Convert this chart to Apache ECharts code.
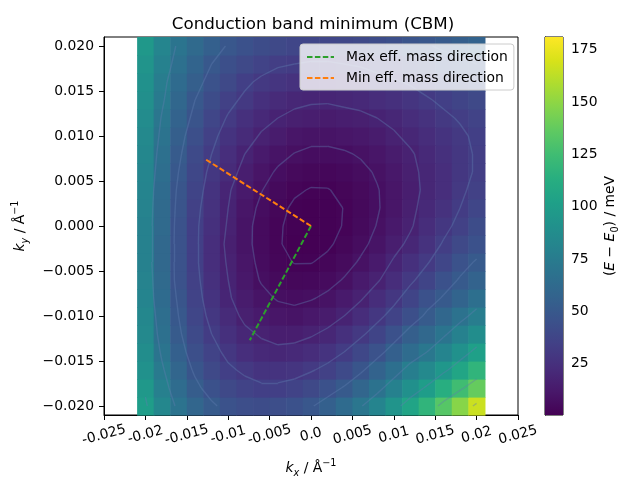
<!DOCTYPE html>
<html>
<head>
<meta charset="utf-8">
<script src="https://cdn.jsdelivr.net/npm/echarts@6/dist/echarts.min.js"></script>
<style>
html,body{margin:0;padding:0;background:#ffffff;}
#chart{width:640px;height:480px;}
</style>
</head>
<body>
<div id="chart"></div>
<script>
// ---------------- data ----------------
const kxValues = [-0.020,-0.018,-0.016,-0.014,-0.012,-0.010,-0.008,-0.006,-0.004,-0.002,0.000,
                  0.002,0.004,0.006,0.008,0.010,0.012,0.014,0.016,0.018,0.020];
const kyValues = [-0.020,-0.018,-0.016,-0.014,-0.012,-0.010,-0.008,-0.006,-0.004,-0.002,0.000,
                  0.002,0.004,0.006,0.008,0.010,0.012,0.014,0.016,0.018,0.020];
// (E - E0) in meV, one row per ky value (ascending), columns follow kxValues
const energyRows = [
  [100, 83, 69, 59, 52, 46, 43, 42, 43, 45, 49, 55, 63, 71, 81, 93,105,118,133,148,166], // ky=-0.020
  [ 96, 78, 64, 53, 45, 40, 36, 34, 34, 36, 40, 45, 51, 59, 68, 79, 90,100,113,125,138], // -0.018
  [ 91, 74, 59, 48, 40, 34, 30, 27, 27, 28, 31, 35, 41, 48, 57, 66, 77, 85, 95,106,118], // -0.016
  [ 88, 70, 55, 44, 36, 29, 24, 21, 20, 21, 23, 27, 32, 39, 46, 55, 64, 72, 81, 91,102], // -0.014
  [ 85, 67, 52, 41, 32, 25, 20, 17, 15, 15, 17, 20, 25, 30, 37, 45, 54, 61, 70, 79, 88], // -0.012
  [ 83, 65, 50, 38, 29, 22, 16, 13, 11, 10, 12, 14, 18, 23, 29, 36, 44, 52, 60, 68, 76], // -0.010
  [ 81, 63, 48, 36, 27, 19, 14, 10,7.3,6.6,7.4,9.4, 13, 17, 23, 29, 37, 45, 51, 58, 66], // -0.008
  [ 80, 62, 46, 35, 25, 18, 12,7.4,4.8,3.8,4.1,5.7,8.5, 13, 17, 23, 30, 37, 45, 51, 57], // -0.006
  [ 79, 61, 46, 34, 24, 17, 11,6.1,3.2,1.8,1.8,3.0,5.4,8.8, 13, 19, 25, 31, 38, 46, 51], // -0.004
  [ 79, 61, 46, 34, 24, 16, 10,5.5,2.4,0.8,0.7,1.3,3.3,6.3, 10, 15, 20, 26, 33, 40, 45], // -0.002
  [ 79, 62, 46, 34, 25, 17, 10,5.7,2.5,0.9,0.6,0.9,2.2,4.8,8.3, 12.5,17, 23, 29, 35, 42], //  0.000
  [ 80, 62, 47, 35, 26, 18, 11,6.6,3.3,1.2,0.7,0.9,2.1,4.3,7.4, 11, 16, 21, 26, 32, 38], //  0.002
  [ 81, 63, 48, 37, 27, 19, 13,8.3,4.8,2.7,1.7,1.8,2.9,4.9,7.6, 11, 15, 20, 24, 30, 35], //  0.004
  [ 82, 65, 50, 39, 29, 22, 15,10.5,7.1,4.9,3.8,3.7,4.6,6.3,8.8,12, 16, 20, 24, 29, 33], //  0.006
  [ 83, 67, 52, 41, 32, 24, 18, 13, 10,7.8,6.6,6.5,7.2,8.7, 11, 14, 17, 21, 25, 29, 33], //  0.008
  [ 85, 69, 54, 44, 35, 27, 22, 17, 14, 11, 10, 10, 11, 12, 14, 17, 20, 23, 27, 30, 34], //  0.010
  [ 87, 71, 57, 47, 38, 31, 25, 21, 18, 16, 15, 14, 15, 16, 18, 20, 23, 26, 30, 33, 36], //  0.012
  [ 89, 74, 60, 50, 42, 35, 30, 25, 22, 20, 19, 19, 20, 21, 23, 25, 28, 31, 34, 37, 40], //  0.014
  [ 91, 76, 63, 54, 46, 40, 34, 30, 28, 26, 25, 25, 26, 27, 29, 31, 33, 36, 39, 42, 44], //  0.016
  [ 93, 79, 67, 58, 50, 44, 40, 36, 33, 32, 31, 31, 32, 33, 35, 37, 40, 42, 45, 47, 50], //  0.018
  [ 96, 82, 70, 62, 55, 49, 45, 42, 40, 38, 38, 38, 39, 40, 42, 44, 47, 49, 52, 54, 57]  //  0.020
];
const energyMin = 0.6;
const energyMax = 181;
const contourLevels = [2, 8, 18, 32, 50, 72, 98, 128, 162];

const maxMassKx = [0, -0.0074];
const maxMassKy = [0, -0.0127];
const minMassKx = [0, -0.0129];
const minMassKy = [0, 0.0075];

const xTickLabels = ['-0.025','-0.02','-0.015','-0.01','-0.005','0.0','0.005','0.01','0.015','0.02','0.025'];
const yTickValues = [-0.020,-0.015,-0.010,-0.005,0.000,0.005,0.010,0.015,0.020];
const yTickLabels = ['\u22120.020','\u22120.015','\u22120.010','\u22120.005','0.000','0.005','0.010','0.015','0.020'];
const cbarTickValues = [25, 50, 75, 100, 125, 150, 175];

// ---------------- styles ----------------
const FONT = 'DejaVu Sans';
const viridis = ['#440154','#48186a','#472d7b','#424086','#3b528b','#33638d','#2c728e','#26828e',
                 '#21918c','#1fa088','#28ae80','#3fbc73','#5ec962','#84d44b','#addc30','#d8e219','#fde725'];

// ---------------- derived ----------------
const heatData = [];
energyRows.forEach((row, r) => row.forEach((e, c) => heatData.push([kxValues[c], kyValues[r], e])));
const cellW = kxValues[1] - kxValues[0];
const cellH = kyValues[1] - kyValues[0];

function contourSegments(level) {
  const segs = [];
  for (let r = 0; r < kyValues.length - 1; r++) {
    for (let c = 0; c < kxValues.length - 1; c++) {
      const v = [energyRows[r][c], energyRows[r][c+1], energyRows[r+1][c+1], energyRows[r+1][c]];
      const p = [[kxValues[c], kyValues[r]], [kxValues[c+1], kyValues[r]],
                 [kxValues[c+1], kyValues[r+1]], [kxValues[c], kyValues[r+1]]];
      const pts = [];
      for (let e = 0; e < 4; e++) {
        const a = v[e], b = v[(e+1) % 4];
        if ((a < level) !== (b < level)) {
          const t = (level - a) / (b - a);
          const pa = p[e], pb = p[(e+1) % 4];
          pts.push([pa[0] + t * (pb[0] - pa[0]), pa[1] + t * (pb[1] - pa[1])]);
        }
      }
      if (pts.length === 2) segs.push(pts);
      else if (pts.length === 4) { segs.push([pts[0], pts[1]]); segs.push([pts[2], pts[3]]); }
    }
  }
  return segs;
}
const contourData = [];
contourLevels.forEach(l => contourSegments(l).forEach(s => contourData.push({coords: s})));

const nameRich = {
  n:   {fontFamily: FONT, fontSize: 13.9, color: '#000', lineHeight: 20},
  it:  {fontFamily: FONT, fontSize: 13.9, fontStyle: 'italic', color: '#000', lineHeight: 20},
  itsub: {fontFamily: FONT, fontSize: 9.7, fontStyle: 'italic', color: '#000', lineHeight: 10, verticalAlign: 'bottom'},
  sub: {fontFamily: FONT, fontSize: 9.7, color: '#000', lineHeight: 10, verticalAlign: 'bottom'},
  sup: {fontFamily: FONT, fontSize: 9.7, color: '#000', lineHeight: 10, verticalAlign: 'top'}
};

// x tick labels are split over two overlaid bottom axes (alternating ticks) so that
// ECharts does not drop a rotated label because of its neighbour's bounding box.
function xLabelAxis(parity, visibleLine) {
  return {
    type: 'value', gridIndex: 0, position: 'bottom', min: -0.025, max: 0.025, interval: 0.005,
    axisLine: {show: visibleLine, onZero: false, lineStyle: {color: '#000', width: 1}},
    axisTick: {show: visibleLine, inside: false, length: 5, lineStyle: {color: '#000', width: 1}},
    splitLine: {show: false},
    axisLabel: {
      show: true, rotate: 15, align: 'center', verticalAlign: 'middle', margin: 20,
      showMinLabel: true, showMaxLabel: true, hideOverlap: false,
      fontFamily: FONT, fontSize: 13.9, color: '#000',
      formatter: v => {
        const idx = Math.round((v + 0.025) / 0.005);
        return idx % 2 === parity ? xTickLabels[idx] : '';
      }
    }
  };
}

const xMain = xLabelAxis(0, true);
xMain.name = '{it|k}{itsub|x}{n| / Å}{sup|\u22121}';
xMain.nameLocation = 'middle';
xMain.nameGap = 43;
xMain.nameTextStyle = {rich: nameRich};

const chart = echarts.init(document.getElementById('chart'), null, {renderer: 'canvas', width: 640, height: 480});

const option = {
  animation: false,
  backgroundColor: '#ffffff',
  textStyle: {fontFamily: FONT},
  title: {
    text: 'Conduction band minimum (CBM)',
    left: 308, top: 11, textAlign: 'center',
    textStyle: {fontFamily: FONT, fontSize: 16.7, fontWeight: 'normal', color: '#000'}
  },
  legend: {
    orient: 'vertical',
    left: 300, top: 44,
    padding: [6, 6, 5, 6],
    itemWidth: 27, itemHeight: 14, itemGap: 7,
    backgroundColor: 'rgba(255,255,255,0.8)',
    borderColor: '#cccccc', borderWidth: 1, borderRadius: 3,
    itemStyle: {opacity: 0},
    textStyle: {fontFamily: FONT, fontSize: 13.9, color: '#000', padding: [0, 0, 0, 7]},
    data: ['Max eff. mass direction', 'Min eff. mass direction']
  },
  grid: [
    {left: 104, top: 37, width: 414, height: 378, show: true, borderColor: '#000', borderWidth: 1,
     backgroundColor: '#fff', containLabel: false, outerBoundsMode: 'none'},
    {left: 545, top: 37, width: 18, height: 378, show: true, borderColor: '#000', borderWidth: 1,
     containLabel: false, outerBoundsMode: 'none'}
  ],
  visualMap: {
    type: 'continuous', show: false, seriesIndex: 0, dimension: 2,
    min: energyMin, max: energyMax,
    inRange: {color: viridis}
  },
  xAxis: [
    xMain,
    {type: 'value', gridIndex: 1, min: 0, max: 1, show: false},
    xLabelAxis(1, false)
  ],
  yAxis: [
    {
      type: 'value', gridIndex: 0, min: -0.021, max: 0.021,
      axisLine: {show: true, onZero: false, lineStyle: {color: '#000', width: 1}},
      axisTick: {show: true, inside: false, length: 5, customValues: yTickValues, lineStyle: {color: '#000', width: 1}},
      splitLine: {show: false},
      axisLabel: {
        show: true, margin: 10, fontFamily: FONT, fontSize: 13.9, color: '#000',
        customValues: yTickValues,
        formatter: v => {
          let best = 0;
          yTickValues.forEach((t, i) => { if (Math.abs(t - v) < Math.abs(yTickValues[best] - v)) best = i; });
          return yTickLabels[best];
        }
      },
      name: '{it|k}{itsub|y}{n| / Å}{sup|\u22121}',
      nameLocation: 'middle', nameGap: 74, nameRotate: 90,
      nameTextStyle: {rich: nameRich}
    },
    {
      type: 'value', gridIndex: 1, min: energyMin, max: energyMax, position: 'right',
      axisLine: {show: true, lineStyle: {color: '#000', width: 1}},
      axisTick: {show: true, inside: false, length: 5, customValues: cbarTickValues, lineStyle: {color: '#000', width: 1}},
      splitLine: {show: false},
      axisLabel: {show: true, margin: 8, fontFamily: FONT, fontSize: 13.9, color: '#000', customValues: cbarTickValues},
      name: '{n|(}{it|E}{n| \u2212 }{it|E}{sub|0}{n|) / meV}',
      nameLocation: 'middle', nameGap: 37, nameRotate: 90,
      nameTextStyle: {rich: nameRich}
    }
  ],
  series: [
    {
      type: 'custom', name: 'energy', xAxisIndex: 0, yAxisIndex: 0,
      data: heatData, encode: {x: 0, y: 1}, z: 1, silent: true,
      renderItem: function (params, api) {
        const p = api.coord([api.value(0), api.value(1)]);
        const s = api.size([cellW, cellH]);
        return {
          type: 'rect',
          shape: {x: p[0] - s[0] / 2, y: p[1] - s[1] / 2, width: s[0] + 0.6, height: s[1] + 0.6},
          style: {fill: api.visual('color')}
        };
      }
    },
    {
      type: 'lines', coordinateSystem: 'cartesian2d', xAxisIndex: 0, yAxisIndex: 0,
      polyline: false, silent: true, z: 3,
      data: contourData,
      lineStyle: {color: 'rgb(95,125,175)', width: 1.4, opacity: 0.4, curveness: 0}
    },
    {
      type: 'line', name: 'Max eff. mass direction', xAxisIndex: 0, yAxisIndex: 0,
      data: maxMassKx.map((x, i) => [x, maxMassKy[i]]),
      showSymbol: false, symbol: 'none', z: 5,
      itemStyle: {color: '#2ca02c'},
      lineStyle: {color: '#2ca02c', width: 2, type: [5.5, 2.4]}
    },
    {
      type: 'line', name: 'Min eff. mass direction', xAxisIndex: 0, yAxisIndex: 0,
      data: minMassKx.map((x, i) => [x, minMassKy[i]]),
      showSymbol: false, symbol: 'none', z: 6,
      itemStyle: {color: '#ff7f0e'},
      lineStyle: {color: '#ff7f0e', width: 2, type: [5.5, 2.4]}
    },
    {
      type: 'custom', name: 'colorbar', xAxisIndex: 1, yAxisIndex: 1,
      data: [[0.5, (energyMin + energyMax) / 2]], silent: true, z: 1,
      renderItem: function (params, api) {
        const cs = params.coordSys;
        const stops = viridis.map((c, i) => ({offset: i / (viridis.length - 1), color: c}));
        return {
          type: 'rect',
          shape: {x: cs.x, y: cs.y, width: cs.width, height: cs.height},
          style: {fill: new echarts.graphic.LinearGradient(0, 1, 0, 0, stops)}
        };
      }
    }
  ]
};
chart.setOption(option);
</script>
</body>
</html>
